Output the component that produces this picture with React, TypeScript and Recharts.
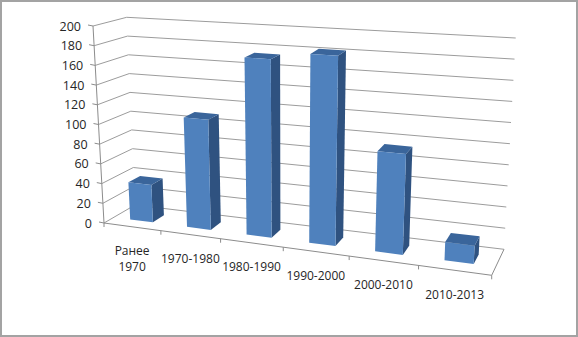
import { Bar, BarChart, CartesianGrid, XAxis, YAxis } from "recharts";

const categories = ["Ранее 1970", "1970-1980", "1980-1990", "1990-2000", "2000-2010", "2010-2013"];
const counts = [38, 110, 175, 183, 95, 17];
const yTicks = [0, 20, 40, 60, 80, 100, 120, 140, 160, 180, 200];

const rows = categories.map((name, i) => ({ name, count: counts[i] }));

const W = 578;
const H = 337;
// flat plot area that recharts lays out, everything is then projected onto the 3d box
const PLOT = { left: 40, top: 20, width: 518, height: 277 };

type Pt = [number, number];

// corners: front-left, front-right, back-right, back-left
const FLOOR: Pt[] = [[104, 223], [491.7, 275.3], [504, 249.3], [135, 205]];
// screen offset from floor to the 200 level at the same corners
const RISE: Pt[] = [[-11, -197], [12.3, -221.3], [11.7, -211.3], [-8.3, -187.7]];
// categories get wider towards the right of the picture
const FORESHORTEN = 0.86;

function bilinear(q: Pt[], s: number, w: number): Pt {
  const mix = (i: number) =>
    (1 - w) * ((1 - s) * q[0][i] + s * q[1][i]) + w * ((1 - s) * q[3][i] + s * q[2][i]);
  return [mix(0), mix(1)];
}

// u: along categories, w: depth, v: 0..1 of the value axis
function project(u: number, w: number, v: number): Pt {
  const s = (FORESHORTEN * u) / (1 + (FORESHORTEN - 1) * u);
  const [x0, y0] = bilinear(FLOOR, s, w);
  const [rx, ry] = bilinear(RISE, s, w);
  return [x0 + rx * v, y0 + ry * v];
}

const toU = (x: number) => (x - PLOT.left) / PLOT.width;
const toV = (y: number) => (PLOT.top + PLOT.height - y) / PLOT.height;
const pts = (list: Pt[]) => list.map((p) => p.map((n) => n.toFixed(1)).join(",")).join(" ");

const GRID = "#9c9c9c";
const AXIS = "#8c8c8c";
const TEXT = "#262626";
const FONT = "'Open Sans', sans-serif";
const BAR_FRONT = "#4f81bd";
const BAR_SIDE = "#2f5280";
const BAR_TOP = "#3a659b";
const DEPTH_START = 0.32;
const DEPTH_END = 0.7;

function BoxBar({ x, y, width, height }: any) {
  const u0 = toU(x);
  const u1 = toU(x + width);
  const v = toV(y);
  const vBase = toV(y + height);
  const a = DEPTH_START;
  const b = DEPTH_END;
  return (
    <g>
      <polygon points={pts([project(u1, a, vBase), project(u1, b, vBase), project(u1, b, v), project(u1, a, v)])} fill={BAR_SIDE} />
      <polygon points={pts([project(u0, a, v), project(u1, a, v), project(u1, b, v), project(u0, b, v)])} fill={BAR_TOP} />
      <polygon points={pts([project(u0, a, vBase), project(u1, a, vBase), project(u1, a, v), project(u0, a, v)])} fill={BAR_FRONT} />
    </g>
  );
}

function WallLine(props: any) {
  const v = toV(props.y1);
  return <polyline points={pts([project(0, 0, v), project(0, 1, v), project(1, 1, v)])} fill="none" stroke={GRID} strokeWidth={1} />;
}

function ValueTick({ y, payload }: any) {
  const v = toV(y);
  const [px, py] = project(0, 0, v);
  return (
    <g>
      <line x1={px} y1={py} x2={px - 5} y2={py - 1} stroke={AXIS} />
      <text x={px - 12} y={py} dy="0.36em" textAnchor="end" fontFamily={FONT} fontSize={12.5} fill={TEXT}>
        {payload.value}
      </text>
    </g>
  );
}

function CategoryTick({ x, payload }: any) {
  const u = toU(x);
  const step = 1 / categories.length;
  const [mx, my] = project(u, 0, 0);
  const [tx, ty] = project(u + step / 2, 0, 0);
  const words = String(payload.value).startsWith("Ранее") ? String(payload.value).split(" ") : [payload.value];
  return (
    <g>
      <line x1={tx} y1={ty} x2={tx} y2={ty + 4} stroke={AXIS} />
      <text textAnchor="middle" fontFamily={FONT} fontSize={12} fill={TEXT}>
        {words.map((word: string, i: number) => (
          <tspan key={word} x={mx} y={my + 24 + i * 16} dy="0.36em">
            {word}
          </tspan>
        ))}
      </text>
    </g>
  );
}

// axis edges of the box that are not gridlines
function BoxEdges() {
  const [ox, oy] = project(0, 0, 0);
  return (
    <g fill="none" stroke={AXIS}>
      <polyline points={pts([project(0, 0, 1), project(0, 0, 0)])} />
      <polyline points={pts([project(0, 0, 0), project(1, 0, 0), project(1, 1, 0)])} />
      <line x1={ox} y1={oy} x2={ox} y2={oy + 4} />
    </g>
  );
}

export default function App() {
  return (
    <div style={{ position: "absolute", left: 0, top: 0, width: W, height: H, boxSizing: "border-box", border: "2px solid #a3a3a3", background: "#fff" }}>
      <BarChart
        width={W}
        height={H}
        data={rows}
        margin={{ top: 20, right: 20, left: 0, bottom: 0 }}
        barCategoryGap="29.5%"
        style={{ position: "absolute", left: -2, top: -2 }}
      >
        <CartesianGrid vertical={false} horizontal={(p: any) => <WallLine key={p.key ?? p.y1} {...p} />} />
        <XAxis dataKey="name" interval={0} axisLine={false} tickLine={false} height={40} tick={CategoryTick} />
        <YAxis domain={[0, 200]} ticks={yTicks} width={40} interval={0} axisLine={false} tickLine={false} tick={ValueTick} />
        <BoxEdges />
        <Bar dataKey="count" isAnimationActive={false} shape={BoxBar} />
      </BarChart>
    </div>
  );
}
